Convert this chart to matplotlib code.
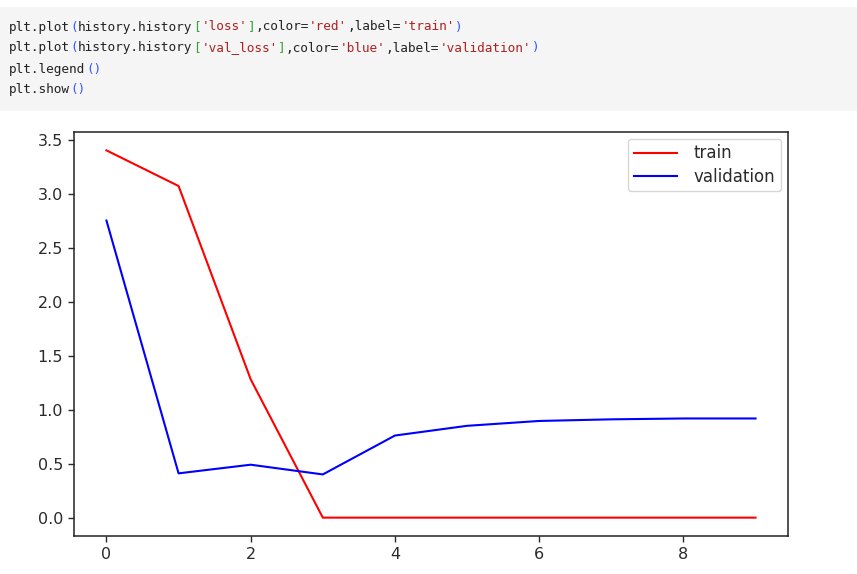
import matplotlib
matplotlib.use("Agg")
import matplotlib.pyplot as plt
from matplotlib.patches import Rectangle

# data
epochs = list(range(10))
train_loss = [3.40, 3.07, 1.28, 0.0, 0.0, 0.0, 0.0, 0.0, 0.0, 0.0]
val_loss = [2.75, 0.41, 0.49, 0.40, 0.76, 0.85, 0.895, 0.91, 0.918, 0.918]
x_ticks = [0, 2, 4, 6, 8]
y_ticks = [0.0, 0.5, 1.0, 1.5, 2.0, 2.5, 3.0, 3.5]

code_lines = [
    [("plt.plot", "t"), ("(", "p"), ("history.history", "t"), ("[", "b"), ("'loss'", "s"), ("]", "b"),
     (",color=", "t"), ("'red'", "s"), (",label=", "t"), ("'train'", "s"), (")", "p")],
    [("plt.plot", "t"), ("(", "p"), ("history.history", "t"), ("[", "b"), ("'val_loss'", "s"), ("]", "b"),
     (",color=", "t"), ("'blue'", "s"), (",label=", "t"), ("'validation'", "s"), (")", "p")],
    [("plt.legend", "t"), ("()", "p")],
    [("plt.show", "t"), ("()", "p")],
]
tok_colors = {"t": "#222222", "p": "#3355ff", "b": "#3aa03a", "s": "#b02020"}

W, H = 857, 574
fig = plt.figure(figsize=(W / 100, H / 100), dpi=100)
fig.patch.set_facecolor("white")

# code cell background
fig.add_artist(Rectangle((0, 1 - 111 / H), 1, 104 / H, transform=fig.transFigure,
                         facecolor="#f5f5f5", edgecolor="none", zorder=0))

code_fs = 9.2
char_w = 0.602 * code_fs * 100 / 72
x0 = 9
line_y = [27, 48, 69, 90]
for ly, toks in zip(line_y, code_lines):
    pos = 0
    for txt, kind in toks:
        fig.text((x0 + pos * char_w) / W, 1 - ly / H, txt, family="DejaVu Sans Mono",
                 fontsize=code_fs, color=tok_colors[kind], va="center", ha="left")
        pos += len(txt)

ax = fig.add_axes([74 / W, 1 - 536 / H, (788 - 74) / W, (536 - 132) / H])
ax.plot(epochs, train_loss, color="red", label="train", linewidth=1.5)
ax.plot(epochs, val_loss, color="blue", label="validation", linewidth=1.5)
ax.set_xticks(x_ticks)
ax.set_yticks(y_ticks)
ax.tick_params(labelsize=11.5, colors="#2a2a2a", width=1.0, length=4.5)
for s in ax.spines.values():
    s.set_linewidth(1.1)
    s.set_color("#222222")
leg = ax.legend(loc="upper right", fontsize=12, handlelength=2.6, borderaxespad=0.4,
                labelspacing=0.3, borderpad=0.35, handletextpad=1.0)
for t in leg.get_texts():
    t.set_color("#2a2a2a")

fig.savefig("out.png", dpi=100)
